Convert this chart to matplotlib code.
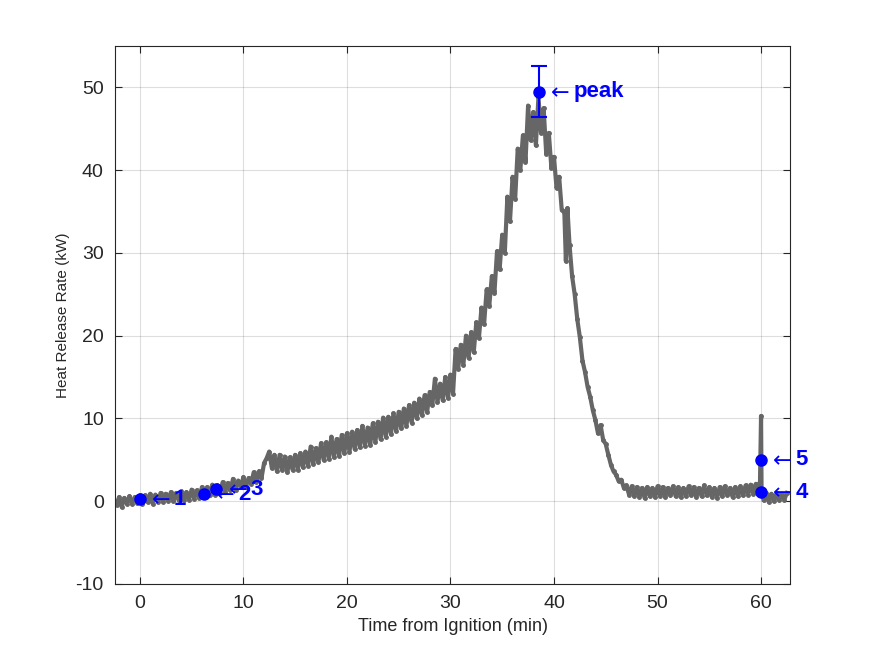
import numpy as np
import matplotlib.pyplot as plt

plt.rcParams['font.family'] = ['Liberation Sans', 'DejaVu Sans']
plt.rcParams['axes.unicode_minus'] = False

# heat release rate (min, kW), upper/lower edges of the noisy band
t = [-2.5, -2.25, -2.0, -1.75, -1.5, -1.25, -1.0, -0.75, -0.5, -0.25,
     0.0, 0.25, 0.5, 0.75, 1.0, 1.25, 1.5, 1.75, 2.0, 2.25,
     2.5, 2.75, 3.0, 3.25, 3.5, 3.75, 4.0, 4.25, 4.5, 4.75,
     5.0, 5.25, 5.5, 5.75, 6.0, 6.25, 6.5, 6.75, 7.0, 7.25,
     7.5, 7.75, 8.0, 8.25, 8.5, 8.75, 9.0, 9.25, 9.5, 9.75,
     10.0, 10.25, 10.5, 10.75, 11.0, 11.25, 11.5, 11.75, 12.0, 12.25,
     12.5, 12.75, 13.0, 13.25, 13.5, 13.75, 14.0, 14.25, 14.5, 14.75,
     15.0, 15.25, 15.5, 15.75, 16.0, 16.25, 16.5, 16.75, 17.0, 17.25,
     17.5, 17.75, 18.0, 18.25, 18.5, 18.75, 19.0, 19.25, 19.5, 19.75,
     20.0, 20.25, 20.5, 20.75, 21.0, 21.25, 21.5, 21.75, 22.0, 22.25,
     22.5, 22.75, 23.0, 23.25, 23.5, 23.75, 24.0, 24.25, 24.5, 24.75,
     25.0, 25.25, 25.5, 25.75, 26.0, 26.25, 26.5, 26.75, 27.0, 27.25,
     27.5, 27.75, 28.0, 28.25, 28.5, 28.75, 29.0, 29.25, 29.5, 29.75,
     30.0, 30.25, 30.5, 30.75, 31.0, 31.25, 31.5, 31.75, 32.0, 32.25,
     32.5, 32.75, 33.0, 33.25, 33.5, 33.75, 34.0, 34.25, 34.5, 34.75,
     35.0, 35.25, 35.5, 35.75, 36.0, 36.25, 36.5, 36.75, 37.0, 37.25,
     37.5, 37.75, 38.0, 38.25, 38.5, 38.75, 39.0, 39.25, 39.5, 39.75,
     40.0, 40.25, 40.5, 40.75, 41.0, 41.15, 41.3, 41.5, 41.75, 42.0,
     42.25, 42.5, 42.75, 43.0, 43.25, 43.5, 43.75, 44.0, 44.25, 44.5,
     44.75, 45.0, 45.25, 45.5, 45.75, 46.0, 46.25, 46.5, 46.75, 47.0,
     47.25, 47.5, 47.75, 48.0, 48.25, 48.5, 48.75, 49.0, 49.25, 49.5,
     49.75, 50.0, 50.25, 50.5, 50.75, 51.0, 51.25, 51.5, 51.75, 52.0,
     52.25, 52.5, 52.75, 53.0, 53.25, 53.5, 53.75, 54.0, 54.25, 54.5,
     54.75, 55.0, 55.25, 55.5, 55.75, 56.0, 56.25, 56.5, 56.75, 57.0,
     57.25, 57.5, 57.75, 58.0, 58.25, 58.5, 58.75, 59.0, 59.25, 59.5,
     59.75, 59.9, 60.0, 60.05, 60.25, 60.5, 60.75, 61.0, 61.25, 61.5,
     61.75, 62.0, 62.25, 62.5]
hrr = [0.1, -0.4, 0.5, -0.7, 0.4, -0.3, 0.6, -0.3, 0.5, -0.2,
       0.7, -0.3, 0.7, -0.1, 0.9, -0.3, 0.8, -0.1, 1.0, -0.1,
       0.9, 0.0, 1.1, 0.0, 1.0, 0.1, 1.2, 0.1, 1.1, 0.2,
       1.4, 0.3, 1.3, 0.4, 1.7, 0.5, 1.7, 0.7, 2.0, 0.8,
       1.9, 1.0, 2.3, 1.1, 2.2, 1.3, 2.7, 1.4, 2.5, 1.7,
       2.9, 1.7, 2.8, 2.1, 3.5, 2.3, 3.6, 2.8, 4.6, 5.2,
       6.0, 4.0, 5.6, 3.6, 5.6, 3.8, 5.4, 3.5, 5.3, 3.8,
       5.6, 3.8, 5.8, 4.1, 6.0, 4.3, 6.6, 4.5, 6.4, 4.7,
       7.0, 5.0, 7.1, 5.1, 7.8, 5.3, 7.5, 5.5, 8.0, 5.8,
       8.2, 6.0, 8.4, 6.3, 8.6, 6.5, 9.1, 6.7, 8.9, 6.8,
       9.4, 7.2, 9.6, 7.5, 10.1, 7.8, 10.2, 8.1, 10.6, 8.5,
       10.8, 8.8, 11.2, 9.1, 11.6, 9.5, 11.9, 10.0, 12.4, 10.4,
       12.8, 10.8, 13.2, 11.6, 14.8, 12.0, 14.2, 12.2, 15.0, 12.5,
       15.3, 13.0, 18.4, 16.0, 18.9, 16.5, 20.0, 17.3, 20.4, 18.0,
       21.6, 19.7, 23.4, 21.4, 25.6, 23.6, 27.2, 25.2, 30.2, 28.0,
       32.2, 30.0, 36.8, 33.8, 39.2, 36.5, 42.6, 40.0, 44.2, 41.0,
       47.8, 43.6, 47.0, 43.0, 48.8, 44.5, 47.5, 42.0, 44.5, 40.3,
       41.6, 37.8, 39.2, 35.2, 35.0, 29.0, 35.4, 31.0, 27.2, 25.0,
       22.0, 19.8, 17.0, 15.6, 13.8, 12.6, 11.0, 9.8, 8.2, 9.2,
       7.4, 6.9, 5.6, 4.4, 3.6, 3.2, 2.4, 2.6, 1.6, 1.9,
       0.8, 1.8, 0.6, 1.7, 0.5, 1.6, 0.4, 1.7, 0.6, 1.6,
       0.5, 1.8, 0.6, 1.7, 0.5, 1.6, 0.7, 1.8, 0.6, 1.7,
       0.5, 1.6, 0.6, 1.8, 0.7, 1.7, 0.5, 1.6, 0.6, 1.9,
       0.7, 1.7, 0.5, 1.6, 0.4, 1.7, 0.6, 1.8, 0.7, 1.6,
       0.5, 1.7, 0.6, 1.8, 0.7, 1.9, 0.8, 2.0, 0.9, 2.1,
       1.4, 2.4, 10.3, 1.2, 0.1, 1.0, -0.1, 0.9, 0.0, 1.0,
       0.1, 0.9, 0.2, 1.0]

# marked events
ev_t = [0.0, 6.2, 7.4, 60.0, 60.0]
ev_hrr = [0.25, 0.85, 1.45, 1.1, 5.0]
ev_lbl = ['1', '2', '3', '4', '5']
peak_t = 38.55
peak_hrr = 49.5
peak_err = 3.1

fig = plt.figure(figsize=(8.75, 6.56), dpi=100)
ax = fig.add_axes([0.1314, 0.1098, 0.7715, 0.8201])

ax.plot(t, hrr, '.-', color=(0.4, 0.4, 0.4), lw=3, ms=5)
ax.plot(ev_t, ev_hrr, 'o', color='b', ms=8)
ax.errorbar([peak_t], [peak_hrr], yerr=[peak_err], fmt='o', color='b',
            ms=8, capsize=6, elinewidth=1.5, capthick=1.5)

for x, y, s in zip(ev_t, ev_hrr, ev_lbl):
    ax.text(x + 0.7, y, r'$\leftarrow$', color='b', fontsize=16, va='center')
    ax.text(x + 3.3, y, s, color='b', fontsize=16, fontweight='bold', va='center')
ax.text(peak_t + 0.7, peak_hrr, r'$\leftarrow$', color='b', fontsize=16, va='center')
ax.text(peak_t + 3.3, peak_hrr, 'peak', color='b', fontsize=16, fontweight='bold', va='center')

ax.set_xlim(-2.4, 62.8)
ax.set_ylim(-10, 55)
ax.set_xticks(range(0, 70, 10))
ax.set_yticks(range(-10, 60, 10))
ax.grid(True, color=(0.15, 0.15, 0.15), alpha=0.15, lw=0.8)
ax.set_axisbelow(True)
ax.tick_params(direction='in', top=True, right=True, labelsize=14,
               colors=(0.15, 0.15, 0.15), length=5, pad=8)
for sp in ax.spines.values():
    sp.set_color((0.15, 0.15, 0.15))
ax.set_xlabel('Time from Ignition (min)', fontsize=13, color=(0.15, 0.15, 0.15))
ax.set_ylabel('Heat Release Rate (kW)', fontsize=11, color=(0.15, 0.15, 0.15))

fig.savefig('out.png')
